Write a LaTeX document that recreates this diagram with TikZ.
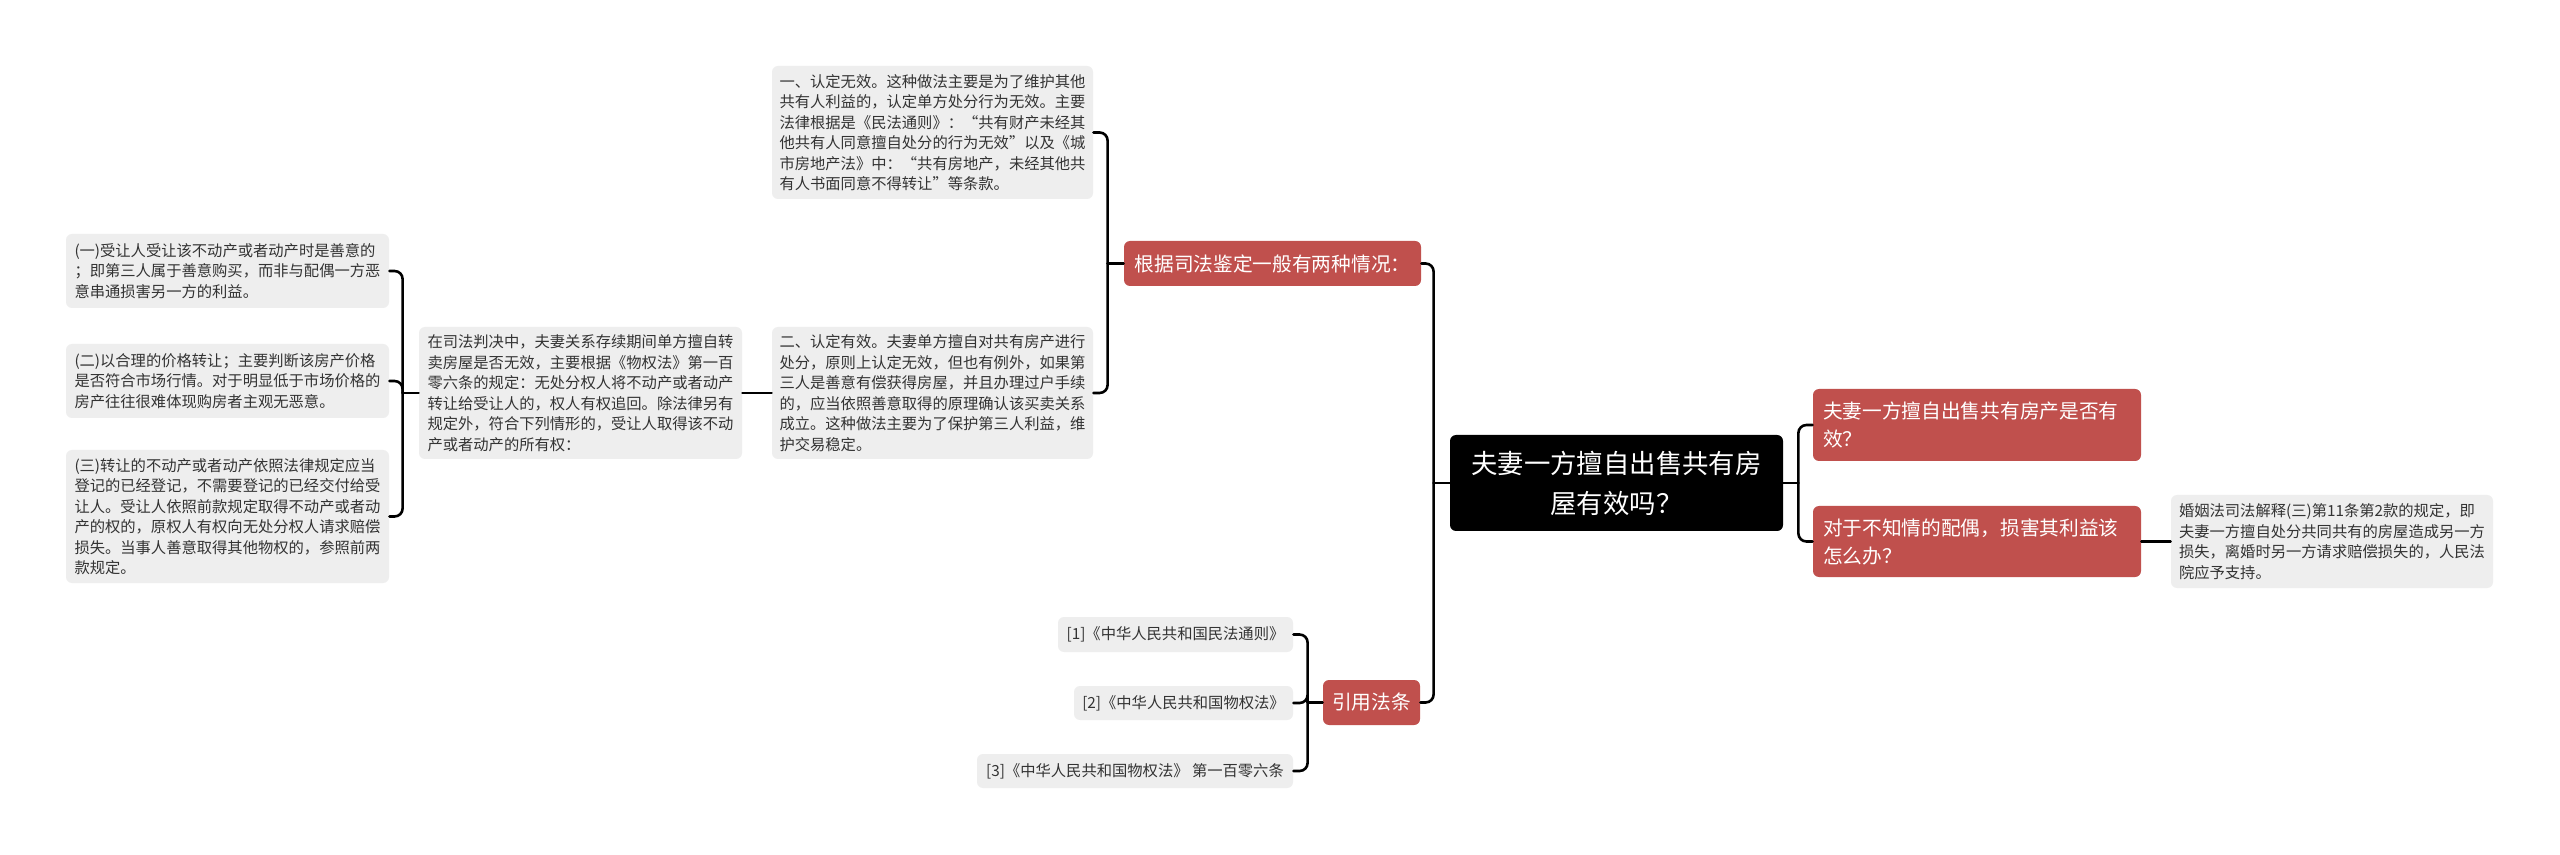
\documentclass[tikz,border=0pt]{standalone}
\usepackage{fontspec}
\setmainfont{Noto Sans CJK SC}
\usetikzlibrary{calc}
\definecolor{redbox}{RGB}{192,80,77}
\definecolor{greybox}{RGB}{238,238,238}
\definecolor{greytext}{RGB}{51,51,51}
\begin{document}
\begin{tikzpicture}[x=0.5pt,y=-0.5pt,
  leaf/.style={fill=greybox, rounded corners=3pt, text=greytext, font=\fontsize{7.65pt}{10.25pt}\selectfont, align=left, inner sep=0pt},
  topic/.style={fill=redbox, rounded corners=3pt, text=white, font=\fontsize{9.85pt}{14pt}\selectfont, align=left, inner sep=0pt},
  rootbox/.style={fill=black, rounded corners=3pt, text=white, font=\fontsize{13.2pt}{20pt}\selectfont, align=center, inner sep=0pt},
  conn/.style={draw=black, line width=1.3pt, rounded corners=4pt, line cap=round}]
\useasboundingbox[fill=white] (0,0) rectangle (2560,855);

% root
\node[rootbox, minimum width=166.5pt, minimum height=48pt] (root) at (1616.5,483) {夫妻一方擅自出售共有房\\屋有效吗？};

% right branch
\node[topic, minimum height=36pt, text width=154pt, inner xsep=5pt] (q1) at (1977,425) {夫妻一方擅自出售共有房产是否有\\效？};
\node[topic, minimum height=35.5pt, text width=154pt, inner xsep=5pt] (q2) at (1977,541.5) {对于不知情的配偶，损害其利益该\\怎么办？};
\node[leaf, minimum width=161pt, minimum height=46.5pt] (law) at (2332,541.5) {婚姻法司法解释(三)第11条第2款的规定，即\\夫妻一方擅自处分共同共有的房屋造成另一方\\损失，离婚时另一方请求赔偿损失的，人民法\\院应予支持。};

% left branch: topics
\node[topic, minimum width=148.5pt, minimum height=22.5pt, align=center] (gen) at (1272.5,263.5) {根据司法鉴定一般有两种情况：};
\node[topic, minimum width=48.5pt, minimum height=22.5pt, align=center] (cite) at (1371.5,702.5) {引用法条};

% two situations
\node[leaf, minimum width=160.5pt, minimum height=66.5pt] (a1) at (932.5,132.5) {一、认定无效。这种做法主要是为了维护其他\\共有人利益的，认定单方处分行为无效。主要\\法律根据是《民法通则》：“共有财产未经其\\他共有人同意擅自处分的行为无效”以及《城\\市房地产法》中：“共有房地产，未经其他共\\有人书面同意不得转让”等条款。};
\node[leaf, minimum width=160.5pt, minimum height=66pt] (a2) at (932.5,393) {二、认定有效。夫妻单方擅自对共有房产进行\\处分，原则上认定无效，但也有例外，如果第\\三人是善意有偿获得房屋，并且办理过户手续\\的，应当依照善意取得的原理确认该买卖关系\\成立。这种做法主要为了保护第三人利益，维\\护交易稳定。};

\node[leaf, minimum width=161.5pt, minimum height=66pt] (s) at (580.5,393) {在司法判决中，夫妻关系存续期间单方擅自转\\卖房屋是否无效，主要根据《物权法》第一百\\零六条的规定：无处分权人将不动产或者动产\\转让给受让人的，权人有权追回。除法律另有\\规定外，符合下列情形的，受让人取得该不动\\产或者动产的所有权：};

\node[leaf, minimum width=161.5pt, minimum height=37pt] (s1) at (227.5,271) {(一)受让人受让该不动产或者动产时是善意的\\；即第三人属于善意购买，而非与配偶一方恶\\意串通损害另一方的利益。};
\node[leaf, minimum width=161.5pt, minimum height=37pt] (s2) at (227.5,381) {(二)以合理的价格转让；主要判断该房产价格\\是否符合市场行情。对于明显低于市场价格的\\房产往往很难体现购房者主观无恶意。};
\node[leaf, minimum width=161.5pt, minimum height=66.5pt] (s3) at (227.5,516.5) {(三)转让的不动产或者动产依照法律规定应当\\登记的已经登记，不需要登记的已经交付给受\\让人。受让人依照前款规定取得不动产或者动\\产的权的，原权人有权向无处分权人请求赔偿\\损失。当事人善意取得其他物权的，参照前两\\款规定。};

% references
\node[leaf, minimum width=117.5pt, minimum height=17.5pt, align=center] (r1) at (1175.5,634.5) {[1]《中华人民共和国民法通则》};
\node[leaf, minimum width=109.5pt, minimum height=17pt, align=center] (r2) at (1183.5,703) {[2]《中华人民共和国物权法》};
\node[leaf, minimum width=158pt, minimum height=17pt, align=center] (r3) at (1135,771) {[3]《中华人民共和国物权法》 第一百零六条};

% junctions
\coordinate (jL) at ($(root.west)+(-16,0)$);
\coordinate (jR) at ($(root.east)+(15,0)$);
\coordinate (jG) at ($(gen.west)+(-16,0)$);
\coordinate (jS) at ($(s.west)+(-16,0)$);
\coordinate (jY) at ($(cite.west)+(-15,0)$);

% connectors
\draw[conn] (root.west) -- (jL);
\draw[conn] (jL) |- (gen.east);
\draw[conn] (jL) |- (cite.east);
\draw[conn] (root.east) -- (jR);
\draw[conn] (jR) |- (q1.west);
\draw[conn] (jR) |- (q2.west);
\draw[conn] (q2.east) -- (law.west);
\draw[conn] (gen.west) -- (jG);
\draw[conn] (jG) |- (a1.east);
\draw[conn] (jG) |- (a2.east);
\draw[conn] (a2.west) -- (s.east);
\draw[conn] (s.west) -- (jS);
\draw[conn] (jS) |- (s1.east);
\draw[conn] (jS) |- (s2.east);
\draw[conn] (jS) |- (s3.east);
\draw[conn] (cite.west) -- (jY);
\draw[conn] (jY) |- (r1.east);
\draw[conn] (jY) |- (r2.east);
\draw[conn] (jY) |- (r3.east);
\end{tikzpicture}
\end{document}
